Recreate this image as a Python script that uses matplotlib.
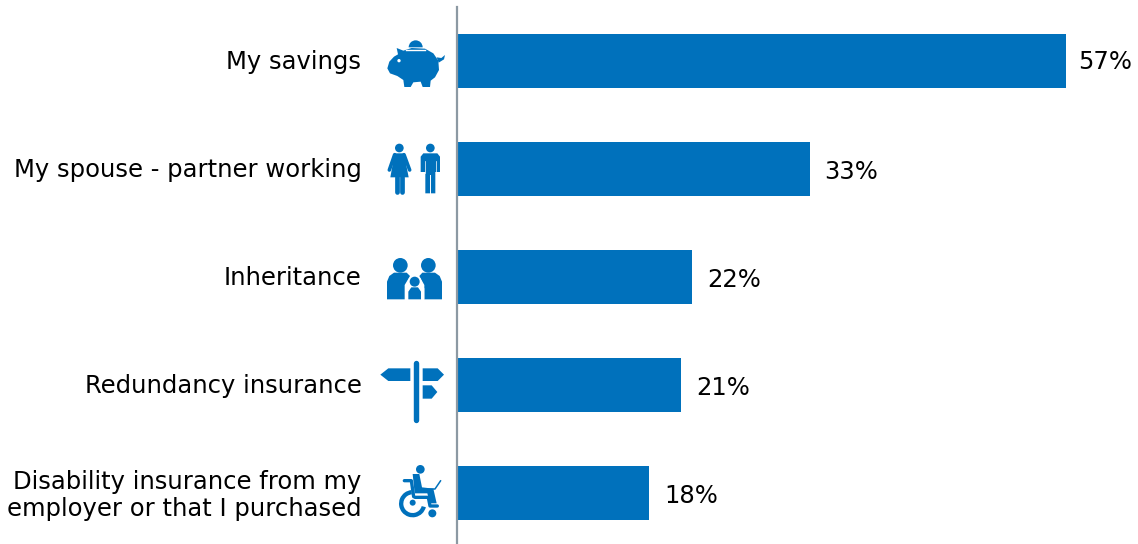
import matplotlib
matplotlib.use("Agg")
import matplotlib.pyplot as plt
from matplotlib.patches import Circle, Polygon, Wedge
from matplotlib.transforms import ScaledTranslation

categories = ["My savings", "My spouse - partner working", "Inheritance",
              "Redundancy insurance",
              "Disability insurance from my\nemployer or that I purchased"]
values = [57, 33, 22, 21, 18]
value_labels = ["57%", "33%", "22%", "21%", "18%"]

BLUE = "#0071bc"
W, H = 1138, 544
FS = 17.45

plt.rcParams["font.family"] = ["DejaVu Sans"]
fig = plt.figure(figsize=(W / 100, H / 100), dpi=100)

# main bars, 0 sits at pixel 457, 10.684 px per percent
ax = fig.add_axes([457 / W, 0, (W - 457) / W, (H - 7) / H])
ax.barh(range(len(values)), values, height=0.5, color=BLUE)
ax.set_xlim(0, (W - 457) / 10.684)
ax.set_ylim(4.472, -0.5)
for s in ["top", "right", "bottom"]:
    ax.spines[s].set_visible(False)
ax.spines["left"].set_color("#8c99a3")
ax.spines["left"].set_linewidth(1.6)
ax.set_xticks([])
ax.set_yticks(range(len(categories)))
ax.set_yticklabels(categories, fontsize=FS, ha="right", linespacing=1.18)
ax.tick_params(axis="y", length=0, pad=95.5 * 0.72)
for lab in ax.get_yticklabels():
    lab.set_transform(lab.get_transform() + ScaledTranslation(0, 1.5 / 100, fig.dpi_scale_trans))
for i, v in enumerate(values):
    # first label sits a little tighter against its bar
    off = (8.8, -1.0) if i == 0 else (10.6, -2.0)
    ax.annotate(value_labels[i], (v, i), xytext=off, textcoords="offset points",
                va="center", ha="left", fontsize=FS, color="black")

# icons are decoration, drawn on a pixel overlay
ov = fig.add_axes([0, 0, 1, 1], facecolor="none")
ov.set_xlim(0, W)
ov.set_ylim(H, 0)
ov.axis("off")


def pts(o, p):
    return [(o[0] + x / 3, o[1] + y / 3) for x, y in p]


def poly(o, p, c=BLUE):
    ov.add_patch(Polygon(pts(o, p), closed=True, fc=c, ec="none"))


def circ(o, x, y, r, c=BLUE):
    ov.add_patch(Circle((o[0] + x / 3, o[1] + y / 3), r / 3, fc=c, ec="none"))


def line(o, p, lw, c=BLUE):
    q = pts(o, p)
    ov.plot([a for a, b in q], [b for a, b in q], color=c, lw=lw,
            solid_capstyle="round", solid_joinstyle="round")


# piggy bank
o = (370, 20)
poly(o, [(80, 84), (100, 92), (125, 84), (165, 86), (190, 100), (205, 122), (207, 150),
         (195, 172), (182, 182), (180, 201), (158, 201), (152, 185), (130, 187), (122, 201),
         (103, 201), (100, 180), (82, 168), (60, 160), (52, 145), (58, 125), (72, 110), (84, 103)])
poly(o, [(200, 112), (214, 114), (225, 105), (222, 118), (206, 128)])
ov.add_patch(Wedge((o[0] + 137 / 3, o[1] + 82 / 3), 21 / 3, 180, 360, fc=BLUE, ec="none"))
ov.plot([o[0] + 108 / 3, o[0] + 166 / 3], [o[1] + 90 / 3] * 2, color="white", lw=1.0)
circ(o, 87, 122, 5, "white")

# woman and man
circ(o, 88, 384, 13)
poly(o, [(74, 400), (102, 400), (116, 472), (61, 472)])
line(o, [(74, 404), (58, 450)], 2.6)
line(o, [(102, 404), (119, 450)], 2.6)
line(o, [(80, 470), (80, 516)], 3.4)
line(o, [(96, 470), (96, 516)], 3.4)
circ(o, 181, 384, 13)
poly(o, [(160, 400), (202, 400), (210, 410), (210, 456), (196, 456), (196, 520), (166, 520), (166, 456), (152, 456), (152, 410)])
ov.plot([o[0] + 181 / 3] * 2, [o[1] + 465 / 3, o[1] + 522 / 3], color="white", lw=0.7)
ov.plot([o[0] + 165 / 3] * 2, [o[1] + 422 / 3, o[1] + 458 / 3], color="white", lw=0.5)
ov.plot([o[0] + 197 / 3] * 2, [o[1] + 422 / 3, o[1] + 458 / 3], color="white", lw=0.5)

# family
o = (370, 240)
circ(o, 91, 76, 22)
circ(o, 175, 76, 22)
poly(o, [(51, 178), (51, 125), (58, 108), (72, 98), (110, 98), (120, 108), (104, 135), (104, 178)])
poly(o, [(216, 178), (216, 125), (209, 108), (195, 98), (157, 98), (148, 108), (163, 135), (163, 178)])
circ(o, 134, 127, 21, "white")
poly(o, [(105, 178), (105, 145), (120, 135), (150, 135), (163, 145), (163, 178)], "white")
circ(o, 134, 125, 15)
poly(o, [(115, 178), (115, 155), (124, 142), (144, 142), (153, 155), (153, 178)])

# signpost
line(o, [(139, 370), (139, 539)], 3.9)
poly(o, [(31, 404), (55, 385), (121, 385), (121, 423), (55, 423)])
poly(o, [(158, 385), (203, 385), (222, 404), (203, 423), (158, 423)])
poly(o, [(158, 436), (185, 436), (202, 456), (185, 476), (158, 476)])

# wheelchair and laptop
o = (370, 440)
circ(o, 151, 88, 13)
poly(o, [(128, 102), (148, 102), (156, 142), (190, 146), (200, 190), (180, 190), (172, 160), (134, 160)])
line(o, [(103, 122), (124, 122), (131, 170)], 2.4)
line(o, [(135, 172), (175, 172), (180, 198), (202, 198)], 2.4)
ov.add_patch(Wedge((o[0] + 128 / 3, o[1] + 191 / 3), 41 / 3, 15, 265, width=13 / 3, fc=BLUE, ec="none"))
circ(o, 128, 188, 9)
circ(o, 187, 220, 12)
line(o, [(158, 147), (195, 147), (212, 122)], 1.1)

fig.savefig("out.png", dpi=100)
